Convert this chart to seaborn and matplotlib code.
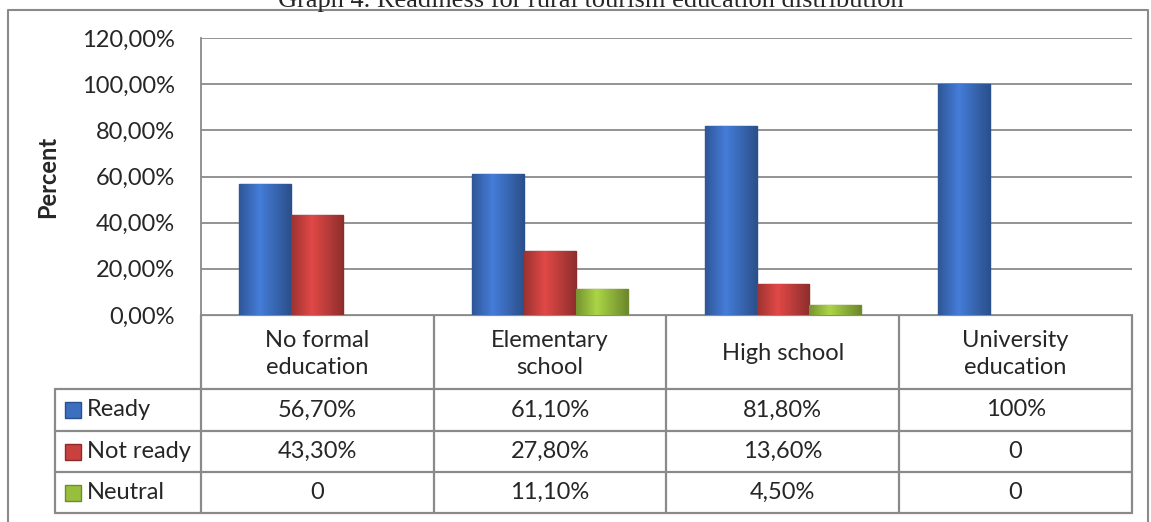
import numpy as np
import pandas as pd
import matplotlib
matplotlib.use("Agg")
import matplotlib.pyplot as plt
from matplotlib.patches import Rectangle
from matplotlib.colors import to_rgb
import seaborn as sns

# podaci
categories = ["No formal\neducation", "Elementary\nschool", "High school", "University\neducation"]
series = ["Ready", "Not ready", "Neutral"]
ready = [56.7, 61.1, 81.8, 100.0]
not_ready = [43.3, 27.8, 13.6, 0.0]
neutral = [0.0, 11.1, 4.5, 0.0]
yticks = [0, 20, 40, 60, 80, 100, 120]
title = "Graph 4. Readiness for rural tourism education distribution"

colors = ["#3D6FC1", "#C8413F", "#98BE3E"]
edges = ["#27508F", "#8E2A2A", "#6E8C2A"]

values = [ready, not_ready, neutral]
df = pd.DataFrame({
    "Education": categories * 3,
    "Status": [s for s in series for _ in categories],
    "Percent": ready + not_ready + neutral,
})

sns.set_style("white")
plt.rcParams["font.family"] = ["Lato", "DejaVu Sans"]

W, H = 1151, 522
fig = plt.figure(figsize=(W / 100, H / 100), dpi=100)

# raspored (pikseli)
PL, PR, PT, PB = 201, 1132, 38, 315
ROWS = [315, 389, 431, 472, 513]
TL = 55
FS = 17
GRID = "#8a8a8a"

ax = fig.add_axes([PL / W, 1 - PB / H, (PR - PL) / W, (PB - PT) / H])
sns.barplot(data=df, x="Education", y="Percent", hue="Status", hue_order=series,
            palette=colors, width=0.67, ax=ax, legend=False, saturation=1)

# gradijent na stupcima (Excel izgled)
prof = np.concatenate([np.linspace(0.78, 1.12, 40), np.linspace(1.12, 0.72, 60)])
for cont, col, ec in zip(ax.containers, colors, edges):
    base = np.array(to_rgb(col))
    grad = np.clip(prof[:, None] * base[None, :], 0, 1)[None, :, :]
    for p in cont:
        if p.get_height() == 0:
            p.set_visible(False)
            continue
        p.set_edgecolor(ec)
        p.set_linewidth(1.0)
        p.set_zorder(3)
        x0, w, h = p.get_x(), p.get_width(), p.get_height()
        im = ax.imshow(grad, extent=[x0, x0 + w, 0, h], aspect="auto",
                       zorder=3.5, interpolation="bilinear")
        im.set_clip_path(p)

ax.set_ylim(0, 120)
ax.set_xlim(-0.5, len(categories) - 0.5)
ax.set_yticks(yticks)
ax.set_yticklabels([f"{t:.2f}%".replace(".", ",") for t in yticks], fontsize=FS)
ax.tick_params(axis="y", length=0, pad=19)
ax.set_xticks([])
ax.set_xlabel("")
ax.set_ylabel("Percent", fontsize=FS, fontweight="bold")
ax.yaxis.set_label_coords((59 - PL) / (PR - PL), 0.5)
ax.yaxis.grid(True, color=GRID, linewidth=1.3)
ax.set_axisbelow(True)
for s in ["top", "right", "bottom"]:
    ax.spines[s].set_visible(False)
ax.spines["left"].set_color(GRID)
ax.spines["left"].set_linewidth(1.3)

# tablica i okvir
ov = fig.add_axes([0, 0, 1, 1], zorder=-1)
ov.set_xlim(0, W)
ov.set_ylim(H, 0)
ov.axis("off")

ov.plot([8, 8, 1148, 1148], [H + 5, 10, 10, H + 5], color=GRID, lw=1.5)

cols = np.linspace(PL, PR, len(categories) + 1)
lw = 1.6
ov.plot([PL, PR], [ROWS[0], ROWS[0]], color=GRID, lw=lw)
for y in ROWS[1:]:
    ov.plot([TL, PR], [y, y], color=GRID, lw=lw)
ov.plot([TL, TL], [ROWS[1], ROWS[-1]], color=GRID, lw=lw)
for x in cols:
    ov.plot([x, x], [ROWS[0], ROWS[-1]], color=GRID, lw=lw)

for i, cat in enumerate(categories):
    cx = (cols[i] + cols[i + 1]) / 2
    ov.text(cx, (ROWS[0] + ROWS[1]) / 2 + 2, cat, ha="center", va="center",
            fontsize=FS, linespacing=1.3)


def fmt(v):
    if v == 0:
        return "0"
    if v == 100:
        return "100%"
    return f"{v:.2f}%".replace(".", ",")


for r, (name, vals) in enumerate(zip(series, values)):
    cy = (ROWS[r + 1] + ROWS[r + 2]) / 2
    ov.add_patch(Rectangle((65, cy - 8), 16, 16, facecolor=colors[r],
                           edgecolor=edges[r], lw=1))
    ov.text(87, cy, name, ha="left", va="center", fontsize=FS)
    for i, v in enumerate(vals):
        cx = (cols[i] + cols[i + 1]) / 2
        ov.text(cx, cy, fmt(v), ha="center", va="center", fontsize=FS)

ov.text(591, 7, title, ha="center", va="baseline", fontsize=19,
        family="Liberation Serif")

fig.savefig("out.png", dpi=100)
